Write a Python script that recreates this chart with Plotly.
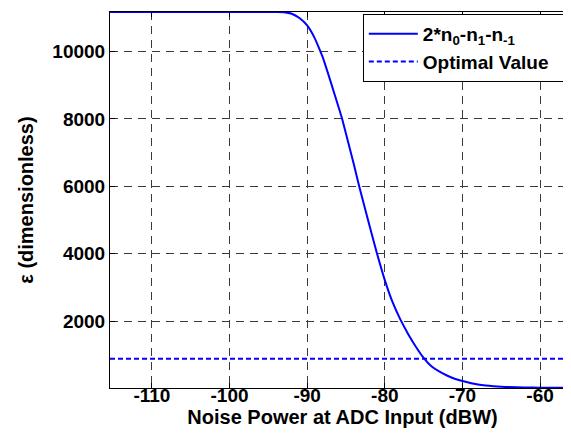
import plotly.graph_objects as go

# Data
noise_dbw = [-115.4, -94, -93, -92, -91, -90, -89, -88.3, -88, -87, -86, -85.5, -85, -84,
             -83.3, -83, -82, -81, -80, -79, -78, -77, -76, -75, -74, -73, -72,
             -71, -70, -69, -68, -67, -66, -65, -64, -62, -60, -57, -55.5]
epsilon = [11170, 11170, 11165, 11120, 10990, 10770, 10380, 10000, 9830, 9120, 8380, 8000, 7560, 6660,
           6000, 5730, 4860, 4000, 3215, 2560, 2050, 1620, 1240, 910, 660, 505, 385,
           290, 222, 165, 122, 92, 70, 54, 43, 30, 24, 20, 19]
optimal_value = 880

x_ticks = [-110, -100, -90, -80, -70, -60]
y_ticks = [2000, 4000, 6000, 8000, 10000]

FONT = "Liberation Sans, Arial, sans-serif"
BLUE = "#0000ff"
PAD = "&nbsp;&nbsp;&nbsp;"  # keeps the legend box wide enough for the bold text

fig = go.Figure()
fig.add_trace(go.Scatter(
    x=noise_dbw, y=epsilon, mode="lines",
    line=dict(color=BLUE, width=2, shape="spline", smoothing=0.5),
    name="<b>2*n<sub>0</sub>-n<sub>1</sub>-n<sub>-1</sub></b>"))
fig.add_trace(go.Scatter(
    x=[noise_dbw[0], noise_dbw[-1]], y=[optimal_value, optimal_value], mode="lines",
    line=dict(color=BLUE, width=2, dash="5px,3px"), name="<b>Optimal Value</b>" + PAD))

axis_common = dict(
    showline=True, linecolor="black", linewidth=1, mirror="allticks",
    ticks="inside", ticklen=5, tickcolor="black",
    showgrid=True, gridcolor="#3a3a3a", gridwidth=1, griddash="8px,6px",
    zeroline=False,
    tickfont=dict(family=FONT, size=19, color="black", weight="bold"),
)

fig.update_layout(
    width=571, height=435,
    margin=dict(l=102, r=4, t=4, b=55, autoexpand=False),
    paper_bgcolor="white", plot_bgcolor="white",
    font=dict(family=FONT, color="black"),
    xaxis=dict(range=[-115.4, -55.5], tickvals=x_ticks, ticktext=[str(v) for v in x_ticks],
               ticklabelstandoff=-10,
               title=dict(text="Noise Power at ADC Input (dBW)", standoff=0,
                          font=dict(family=FONT, size=20, color="black", weight="bold")),
               **axis_common),
    yaxis=dict(range=[15, 11170], tickvals=y_ticks, ticktext=[str(v) for v in y_ticks],
               title=dict(text="ε (dimensionless)", standoff=13,
                          font=dict(family=FONT, size=20, color="black", weight="bold")),
               **axis_common),
    legend=dict(x=0.991, xanchor="right", y=0.995, yanchor="top",
                bgcolor="white", bordercolor="black", borderwidth=1,
                font=dict(family=FONT, size=19, color="black"),
                itemwidth=49, tracegroupgap=0),
    showlegend=True,
)

fig.write_html("out.html")
